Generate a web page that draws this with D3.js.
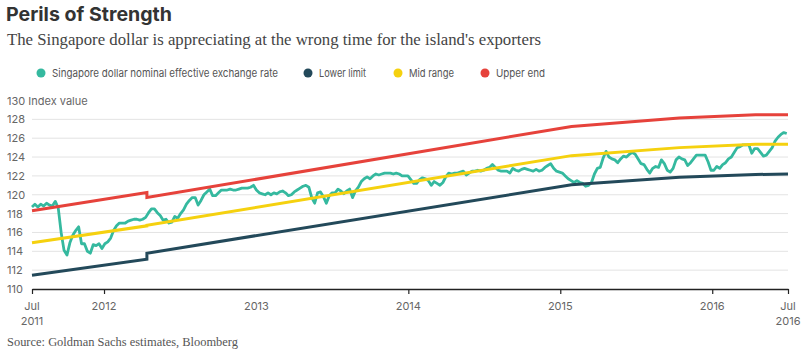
<!DOCTYPE html>
<html>
<head>
<meta charset="utf-8">
<script src="https://cdn.jsdelivr.net/npm/d3@7"></script>
<style>
  body { margin: 0; background: #fff; }
  svg { display: block; font-family: "Inter", "Roboto", sans-serif; }
</style>
</head>
<body>
<div id="chart"></div>
<script>
// Policy band (MAS) breakpoints; the April 2012 date appears twice for the step
const bandDates = ["2011-07-12", "2012-04-13", "2012-04-13", "2015-01-28", "2015-10-14", "2016-04-14", "2016-07-01"];
const upperEnd   = [118.3, 120.25, 119.7, 127.25, 128.15, 128.5, 128.5];
const midRange   = [114.9, 116.7, 116.75, 124.15, 125.0, 125.35, 125.35];
const lowerLimit = [111.45, 113.15, 113.8, 121.05, 121.85, 122.15, 122.2];

// S$NEER, weekly readings starting 2011-07-12
const neerStart = "2011-07-12";
const neerStepDays = 7;
const neerValues = [
  118.7, 119.0, 118.7, 119.0, 118.8, 119.1, 118.9, 118.8, 119.3, 118.6,
  116.0, 114.1, 113.6, 114.9, 115.7, 116.2, 116.6, 114.8, 114.8, 114.0,
  113.8, 114.7, 114.6, 114.8, 114.3, 114.8, 115.0, 115.4, 116.2, 116.7,
  117.0, 117.0, 117.0, 117.2, 117.3, 117.4, 117.4, 117.3, 117.4, 117.6,
  118.1, 118.5, 118.5, 118.1, 117.8, 117.3, 117.4, 117.0, 117.1, 117.7,
  117.5, 118.0, 118.4, 119.0, 119.4, 119.7, 119.7, 118.9, 119.4, 120.0,
  120.3, 120.6, 119.9, 119.9, 120.2, 120.5, 120.5, 120.5, 120.6, 120.5,
  120.5, 120.6, 120.7, 120.7, 120.7, 120.8, 121.0, 120.5, 120.2, 120.1,
  120.0, 120.2, 120.0, 120.2, 120.1, 120.3, 120.4, 120.2, 119.9, 120.0,
  120.3, 120.5, 120.7, 120.9, 121.0, 120.8, 119.7, 119.1, 120.2, 120.3,
  119.8, 119.1, 119.9, 120.2, 120.2, 120.6, 120.4, 120.1, 120.4, 120.6,
  119.7, 120.4, 120.8, 121.4, 121.7, 121.9, 121.7, 122.0, 122.2, 122.1,
  122.2, 122.3, 122.3, 122.3, 122.2, 122.3, 122.2, 122.0, 122.0, 122.0,
  121.6, 121.2, 121.2, 121.6, 121.8, 121.7, 121.5, 121.0, 121.4, 121.2,
  121.0, 121.3, 121.9, 122.3, 122.2, 122.3, 122.3, 122.4, 122.5, 122.1,
  122.3, 122.5, 122.5, 122.6, 122.5, 122.6, 122.8, 122.9, 123.2, 122.9,
  122.6, 122.5, 122.5, 122.5, 122.3, 122.8, 122.6, 122.5, 122.7, 122.8,
  122.7, 122.6, 122.5, 122.7, 122.5, 122.6, 122.9, 123.1, 123.3, 122.8,
  122.5, 122.4, 122.3, 122.0, 121.7, 121.5, 121.3, 121.5, 121.3, 121.2,
  120.9, 121.0, 121.3, 122.2, 122.8, 122.9, 123.9, 124.6, 124.0, 123.8,
  123.7, 123.4, 123.8, 124.1, 124.0, 124.3, 124.5, 124.3, 123.8, 123.3,
  123.2, 122.7, 122.3, 122.8, 123.0, 122.9, 123.7, 123.3, 122.6, 122.4,
  122.8, 123.7, 124.0, 123.8, 123.7, 123.1, 123.4, 123.8, 124.2, 124.2,
  124.2, 124.2, 123.5, 122.6, 122.6, 123.0, 122.8, 123.2, 123.4, 123.8,
  124.0, 124.5, 125.0, 125.1, 125.3, 125.3, 125.3, 124.4, 124.9, 124.9,
  124.5, 124.1, 124.2, 124.6, 125.0, 125.7, 126.1, 126.4, 126.6, 126.5
];

const yTicks = [110, 112, 114, 116, 118, 120, 122, 124, 126, 128, 130];
const xTickDates  = ["2011-07-12", "2012-01-01", "2013-01-01", "2014-01-01", "2015-01-01", "2016-01-01", "2016-07-01"];
const xTickLabels = [["Jul", "2011"], ["2012"], ["2013"], ["2014"], ["2015"], ["2016"], ["Jul", "2016"]];
const xTickMarked = [true, true, false, true, true, true, true];

const seriesNames  = ["Singapore dollar nominal effective exchange rate", "Lower limit", "Mid range", "Upper end"];
const seriesColors = ["#35b99f", "#23495a", "#f5d10f", "#e6423b"];

const parse = d3.utcParse("%Y-%m-%d");
const W = 801, H = 353;
const plotL = 32, plotR = 788, plotT = 100.5, plotB = 289;

const svg = d3.select("#chart").append("svg")
  .attr("width", W)
  .attr("height", H);

// stretch text to the width measured on the reference
function fit(sel, w) {
  sel.each(function() {
    const len = this.getComputedTextLength();
    if (Math.abs(len - w) > 1) d3.select(this).attr("textLength", w).attr("lengthAdjust", "spacingAndGlyphs");
  });
}

// Title / subtitle
svg.append("text")
  .attr("x", 6).attr("y", 21)
  .style("font-size", "19px").style("font-weight", 700).style("fill", "#333")
  .text("Perils of Strength")
  .call(fit, 166);

svg.append("text")
  .attr("x", 7).attr("y", 45)
  .style("font-family", "'Liberation Serif', serif")
  .style("font-size", "16px").style("fill", "#444")
  .text("The Singapore dollar is appreciating at the wrong time for the island's exporters")
  .call(fit, 534);

// Legend
const legendDotX = [41, 308, 398, 485];
const legendWidths = [226, 47, 45, 49];
const lg = svg.append("g");
seriesNames.forEach((name, i) => {
  lg.append("circle")
    .attr("cx", legendDotX[i]).attr("cy", 73).attr("r", 4.5)
    .style("fill", seriesColors[i]);
  lg.append("text")
    .attr("x", legendDotX[i] + 11).attr("y", 77)
    .style("font-size", "11px").style("fill", "#555")
    .text(name)
    .call(fit, legendWidths[i]);
});

// Scales
const x = d3.scaleUtc()
  .domain([parse("2011-07-12"), parse("2016-07-01")])
  .range([plotL, plotR]);
const y = d3.scaleLinear().domain([110, 130]).range([plotB, plotT]);

// Grid
svg.append("g")
  .selectAll("line")
  .data(yTicks.filter(v => v > 110 && v < 130))
  .join("line")
  .attr("x1", plotL).attr("x2", plotR)
  .attr("y1", d => y(d)).attr("y2", d => y(d))
  .style("stroke", "#e3e3e3").style("stroke-width", 1);

// Y labels (left aligned)
const yAxis = svg.append("g")
  .attr("transform", "translate(7,0)")
  .call(d3.axisRight(y).tickValues(yTicks).tickSize(0).tickPadding(0)
    .tickFormat(d => d === 130 ? "130 Index value" : d));
yAxis.select(".domain").remove();
yAxis.selectAll("text").style("font-size", "11px").style("fill", "#666").style("font-family", "'Inter', 'Roboto', sans-serif");

// Lines
const bandData = arr => arr.map((v, i) => ({ date: parse(bandDates[i]), value: v }));
const neerData = neerValues.map((v, i) => ({ date: d3.utcDay.offset(parse(neerStart), i * neerStepDays), value: v }));

const line = d3.line().x(d => x(d.date)).y(d => y(d.value));

const g = svg.append("g");
g.append("path").datum(neerData).attr("d", line)
  .style("fill", "none").style("stroke", seriesColors[0]).style("stroke-width", 2.8).style("stroke-linejoin", "round");
[[lowerLimit, 1], [midRange, 2], [upperEnd, 3]].forEach(([arr, ci]) => {
  g.append("path").datum(bandData(arr)).attr("d", line)
    .style("fill", "none").style("stroke", seriesColors[ci]).style("stroke-width", 3);
});

// X axis
const xa = svg.append("g")
  .attr("transform", `translate(0,${plotB})`)
  .call(d3.axisBottom(x)
    .tickValues(xTickDates.filter((d, i) => xTickMarked[i]).map(parse))
    .tickSize(5).tickSizeOuter(0).tickFormat(""));
xa.select(".domain").style("stroke", "#222").style("stroke-width", 1.5);
xa.selectAll(".tick line").style("stroke", "#222").style("stroke-width", 1.2);

const xl = svg.append("g");
xTickDates.forEach((d, i) => {
  const t = xl.append("text")
    .attr("x", x(parse(d))).attr("y", 310)
    .attr("text-anchor", "middle")
    .style("font-size", "11px").style("fill", "#666");
  xTickLabels[i].forEach((s, j) => {
    t.append("tspan").attr("x", x(parse(d))).attr("dy", j ? 15 : 0).text(s);
  });
});

// Source
svg.append("text")
  .attr("x", 7).attr("y", 346)
  .style("font-family", "'Liberation Serif', serif")
  .style("font-size", "12.5px").style("fill", "#555")
  .text("Source: Goldman Sachs estimates, Bloomberg")
  .call(fit, 231);
</script>
</body>
</html>
